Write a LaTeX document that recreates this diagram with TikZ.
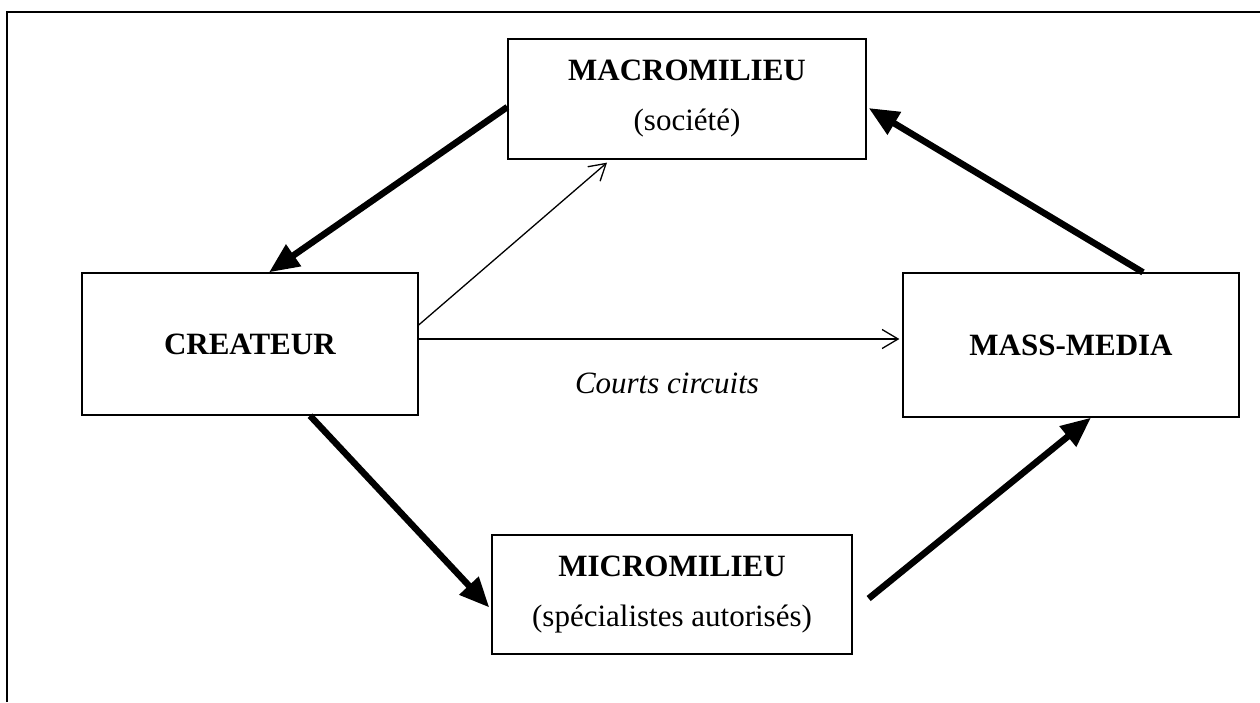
\documentclass[tikz,border=0pt]{standalone}
\usepackage{fontspec}
\setmainfont{Liberation Serif}
\usetikzlibrary{arrows.meta,calc}
\begin{document}
\begin{tikzpicture}[x=1pt,y=-1pt,
  box/.style={draw,line width=1.3pt,inner sep=0pt,align=center,font=\fontsize{31}{50}\selectfont},
  thick arrow/.style={line width=6.5pt,-{Triangle[length=30pt,width=25pt]}},
  thin arrow/.style={line width=1.3pt,-{Straight Barb[length=16pt,width=19pt,line width=1.3pt]}},
  frame/.style={line width=2pt}]
\useasboundingbox (0,0) rectangle (1260,702);
\draw[frame] (7,702) -- (7,11.5) -- (1260,11.5);
\node[box,minimum width=358pt,minimum height=120pt] (macro) at (687,99) {\textbf{MACROMILIEU}\\(société)};
\node[box,minimum width=336pt,minimum height=142pt] (createur) at (250,344) {\textbf{CREATEUR}};
\node[box,minimum width=336pt,minimum height=144pt] (mass) at (1071,345) {\textbf{MASS-MEDIA}};
\node[box,minimum width=360pt,minimum height=119pt] (micro) at (672,594.5) {\textbf{MICROMILIEU}\\(spécialistes autorisés)};
\node[font=\fontsize{31}{37}\selectfont\itshape] (courts) at (667,383) {Courts circuits};
\draw[thick arrow] ([shift={(0,8)}]macro.west) -- ([shift={(19,0)}]createur.north);
\draw[thick arrow] ([shift={(72,0)}]mass.north) -- ([shift={(2,9)}]macro.east);
\draw[thick arrow] ([shift={(60,0)}]createur.south) -- ([shift={(-2,13)}]micro.west);
\draw[thick arrow] ([shift={(16,4)}]micro.east) -- ([shift={(20,0)}]mass.south);
\draw[thin arrow] ([shift={(0,-19)}]createur.east) -- ([shift={(-80,3)}]macro.south);
\draw[thin arrow] ([shift={(0,-5)}]createur.east) -- ([shift={(-3,-6)}]mass.west);
\end{tikzpicture}
\end{document}
